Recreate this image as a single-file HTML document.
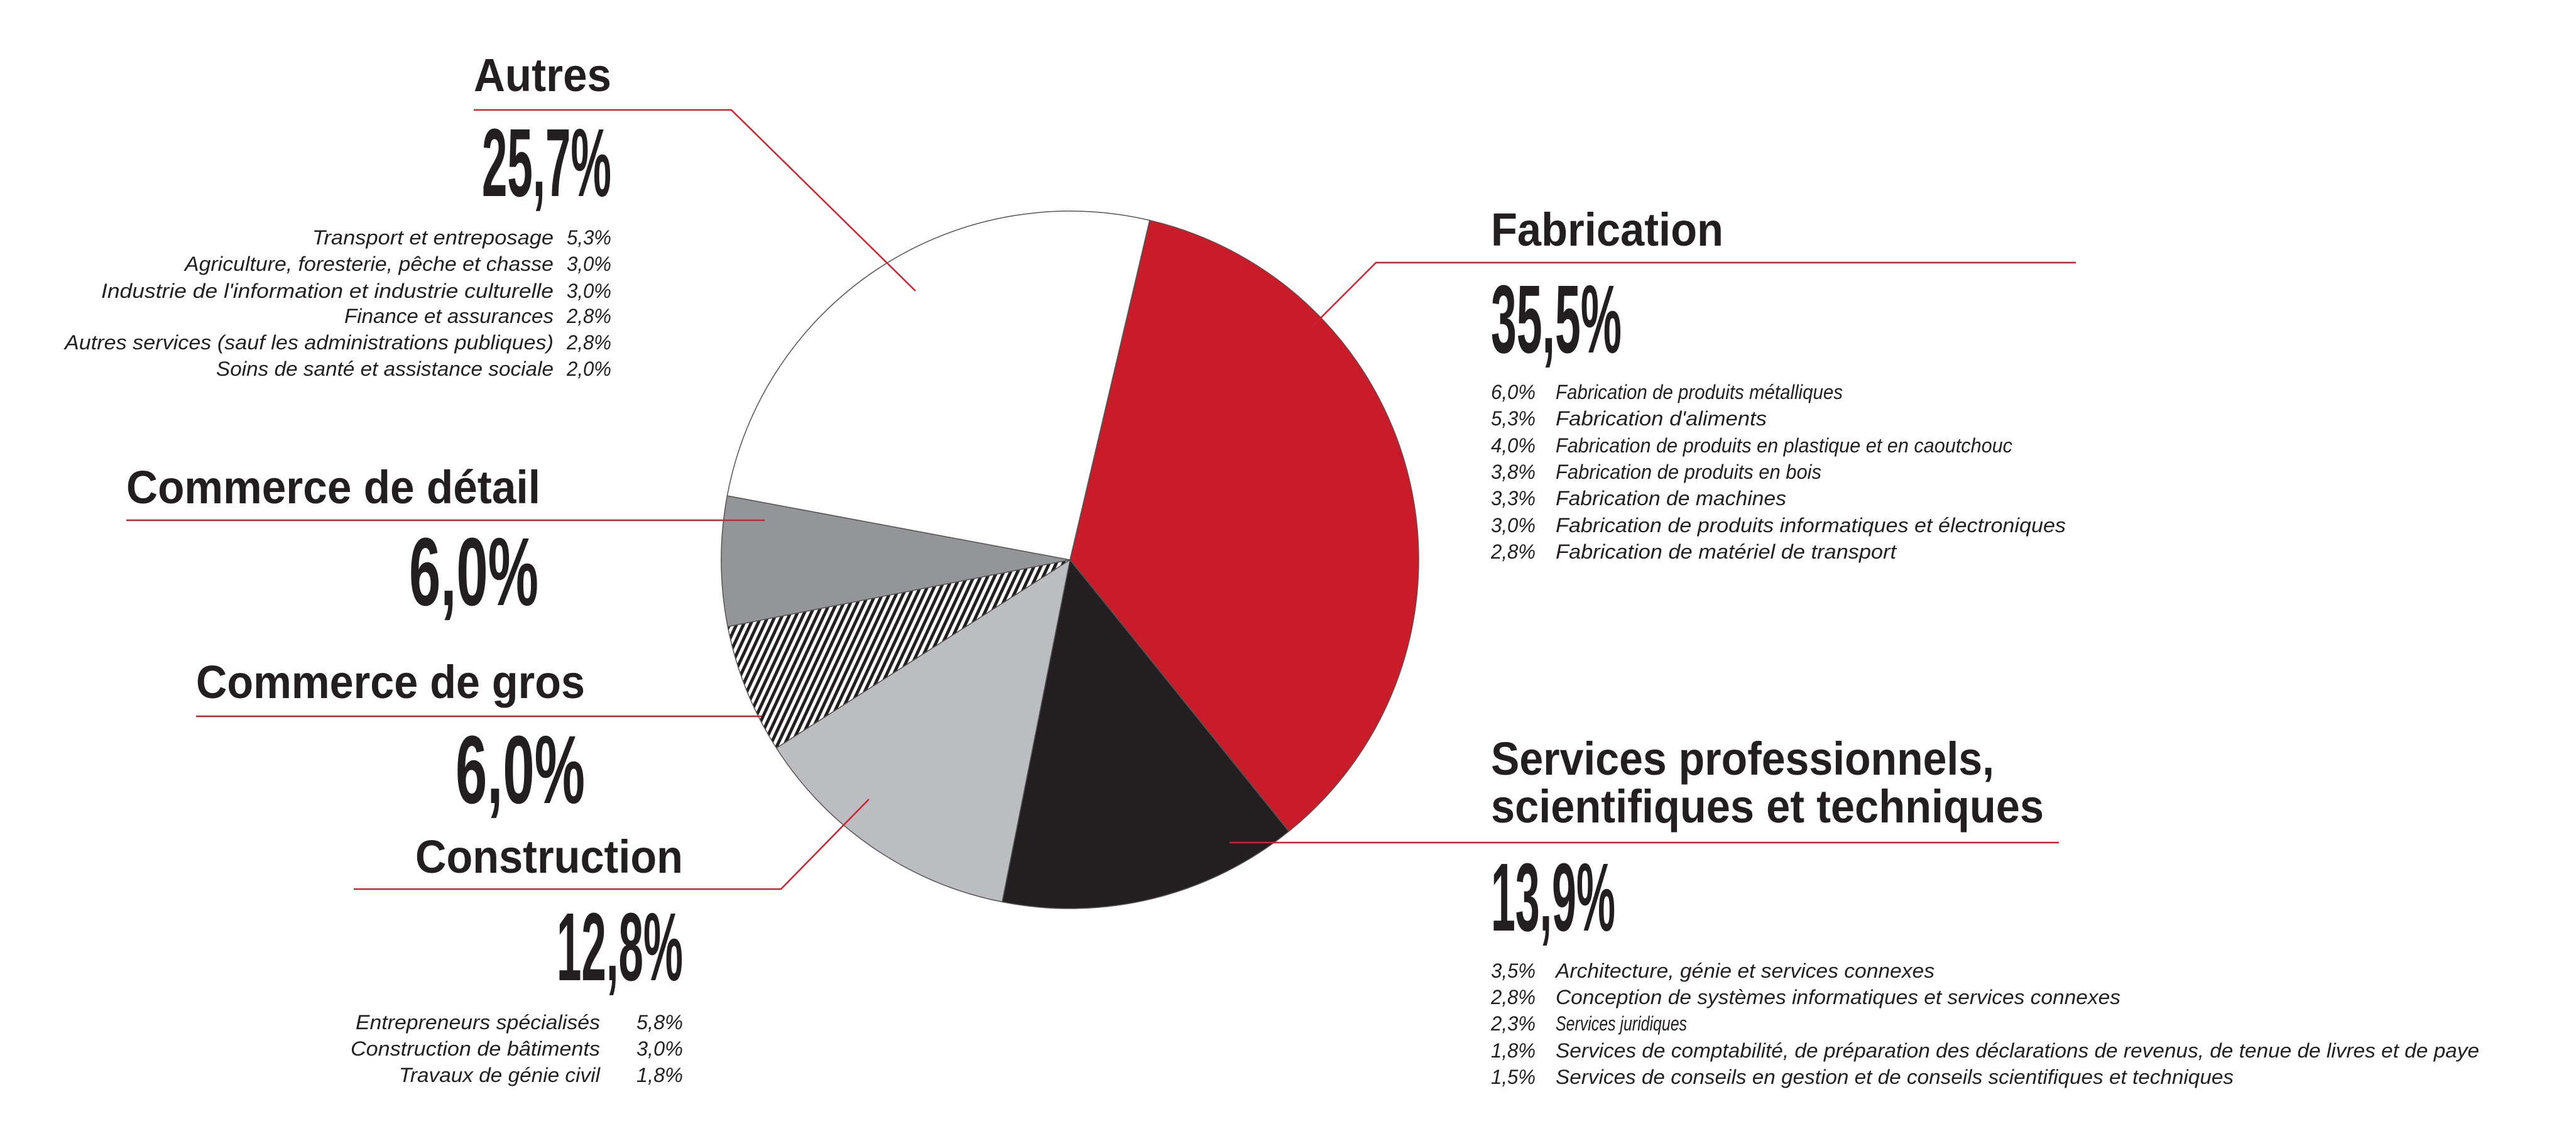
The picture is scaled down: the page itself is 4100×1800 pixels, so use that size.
<!DOCTYPE html>
<html><head><meta charset="utf-8"><style>
html,body{margin:0;padding:0;background:#fff;}
svg{display:block;}
.t{font-family:"Liberation Sans",sans-serif;font-weight:bold;fill:#231f20;}
.s{font-family:"Liberation Sans",sans-serif;font-style:italic;font-size:32px;fill:#231f20;}
.l{stroke:#d0202e;stroke-width:2.5;fill:none;}
</style></head><body>
<svg id="chart" width="4100" height="1800" viewBox="0 0 4100 1800">
<defs>
<pattern id="hatch" width="10" height="10" patternUnits="userSpaceOnUse" patternTransform="rotate(25)">
<rect width="10" height="10" fill="#fff"/><rect width="5" height="10" fill="#231f20"/>
</pattern>
</defs>
<g id="slices"></g>

<!-- leader lines -->
<polyline class="l" points="754,175 1164,175 1457,463"/>
<polyline class="l" points="3304,418 2190,418 2090,518"/>
<polyline class="l" points="201,828 1217,828"/>
<polyline class="l" points="312,1140 1212,1140"/>
<polyline class="l" points="563,1415 1243,1415 1383,1272"/>
<polyline class="l" points="3277,1341 1957,1341"/>

<!-- Autres -->
<text class="t" x="754" y="145" font-size="74" textLength="219" lengthAdjust="spacingAndGlyphs">Autres</text>
<text class="t" x="767" y="312" font-size="154" textLength="206" lengthAdjust="spacingAndGlyphs">25,7%</text>
<g>
<text class="s" x="497" y="389" textLength="384" lengthAdjust="spacingAndGlyphs">Transport et entreposage</text><text class="s" x="902" y="389" textLength="71" lengthAdjust="spacingAndGlyphs">5,3%</text>
<text class="s" x="294" y="431" textLength="587" lengthAdjust="spacingAndGlyphs">Agriculture, foresterie, pêche et chasse</text><text class="s" x="902" y="431" textLength="71" lengthAdjust="spacingAndGlyphs">3,0%</text>
<text class="s" x="161" y="474" textLength="720" lengthAdjust="spacingAndGlyphs">Industrie de l'information et industrie culturelle</text><text class="s" x="902" y="474" textLength="71" lengthAdjust="spacingAndGlyphs">3,0%</text>
<text class="s" x="548" y="514" textLength="333" lengthAdjust="spacingAndGlyphs">Finance et assurances</text><text class="s" x="902" y="514" textLength="71" lengthAdjust="spacingAndGlyphs">2,8%</text>
<text class="s" x="103" y="556" textLength="778" lengthAdjust="spacingAndGlyphs">Autres services (sauf les administrations publiques)</text><text class="s" x="902" y="556" textLength="71" lengthAdjust="spacingAndGlyphs">2,8%</text>
<text class="s" x="344" y="598" textLength="537" lengthAdjust="spacingAndGlyphs">Soins de santé et assistance sociale</text><text class="s" x="902" y="598" textLength="71" lengthAdjust="spacingAndGlyphs">2,0%</text>
</g>

<!-- Fabrication -->
<text class="t" x="2373" y="391" font-size="74" textLength="370" lengthAdjust="spacingAndGlyphs">Fabrication</text>
<text class="t" x="2373" y="561" font-size="154" textLength="208" lengthAdjust="spacingAndGlyphs">35,5%</text>
<g>
<text class="s" x="2373" y="635" textLength="71" lengthAdjust="spacingAndGlyphs">6,0%</text><text class="s" x="2476" y="635" textLength="457" lengthAdjust="spacingAndGlyphs">Fabrication de produits métalliques</text>
<text class="s" x="2373" y="677" textLength="71" lengthAdjust="spacingAndGlyphs">5,3%</text><text class="s" x="2476" y="677" textLength="336" lengthAdjust="spacingAndGlyphs">Fabrication d'aliments</text>
<text class="s" x="2373" y="720" textLength="71" lengthAdjust="spacingAndGlyphs">4,0%</text><text class="s" x="2476" y="720" textLength="727" lengthAdjust="spacingAndGlyphs">Fabrication de produits en plastique et en caoutchouc</text>
<text class="s" x="2373" y="762" textLength="71" lengthAdjust="spacingAndGlyphs">3,8%</text><text class="s" x="2476" y="762" textLength="423" lengthAdjust="spacingAndGlyphs">Fabrication de produits en bois</text>
<text class="s" x="2373" y="804" textLength="71" lengthAdjust="spacingAndGlyphs">3,3%</text><text class="s" x="2476" y="804" textLength="367" lengthAdjust="spacingAndGlyphs">Fabrication de machines</text>
<text class="s" x="2373" y="847" textLength="71" lengthAdjust="spacingAndGlyphs">3,0%</text><text class="s" x="2476" y="847" textLength="812" lengthAdjust="spacingAndGlyphs">Fabrication de produits informatiques et électroniques</text>
<text class="s" x="2373" y="889" textLength="71" lengthAdjust="spacingAndGlyphs">2,8%</text><text class="s" x="2476" y="889" textLength="542" lengthAdjust="spacingAndGlyphs">Fabrication de matériel de transport</text>
</g>

<!-- Commerce de détail -->
<text class="t" x="201" y="801" font-size="74" textLength="659" lengthAdjust="spacingAndGlyphs">Commerce de détail</text>
<text class="t" x="651" y="963" font-size="154" textLength="206" lengthAdjust="spacingAndGlyphs">6,0%</text>

<!-- Commerce de gros -->
<text class="t" x="312" y="1111" font-size="74" textLength="619" lengthAdjust="spacingAndGlyphs">Commerce de gros</text>
<text class="t" x="725" y="1278" font-size="154" textLength="206" lengthAdjust="spacingAndGlyphs">6,0%</text>

<!-- Construction -->
<text class="t" x="661" y="1389" font-size="74" textLength="426" lengthAdjust="spacingAndGlyphs">Construction</text>
<text class="t" x="886" y="1560" font-size="154" textLength="201" lengthAdjust="spacingAndGlyphs">12,8%</text>
<g>
<text class="s" x="566" y="1638" textLength="389" lengthAdjust="spacingAndGlyphs">Entrepreneurs spécialisés</text><text class="s" x="1013" y="1638" textLength="74" lengthAdjust="spacingAndGlyphs">5,8%</text>
<text class="s" x="558" y="1680" textLength="397" lengthAdjust="spacingAndGlyphs">Construction de bâtiments</text><text class="s" x="1013" y="1680" textLength="74" lengthAdjust="spacingAndGlyphs">3,0%</text>
<text class="s" x="635" y="1722" textLength="320" lengthAdjust="spacingAndGlyphs">Travaux de génie civil</text><text class="s" x="1013" y="1722" textLength="74" lengthAdjust="spacingAndGlyphs">1,8%</text>
</g>

<!-- Services -->
<text class="t" x="2373" y="1233" font-size="74" textLength="801" lengthAdjust="spacingAndGlyphs">Services professionnels,</text>
<text class="t" x="2373" y="1309" font-size="74" textLength="880" lengthAdjust="spacingAndGlyphs">scientifiques et techniques</text>
<text class="t" x="2373" y="1481" font-size="154" textLength="198" lengthAdjust="spacingAndGlyphs">13,9%</text>
<g>
<text class="s" x="2373" y="1556" textLength="71" lengthAdjust="spacingAndGlyphs">3,5%</text><text class="s" x="2476" y="1556" textLength="603" lengthAdjust="spacingAndGlyphs">Architecture, génie et services connexes</text>
<text class="s" x="2373" y="1598" textLength="71" lengthAdjust="spacingAndGlyphs">2,8%</text><text class="s" x="2476" y="1598" textLength="899" lengthAdjust="spacingAndGlyphs">Conception de systèmes informatiques et services connexes</text>
<text class="s" x="2373" y="1640" textLength="71" lengthAdjust="spacingAndGlyphs">2,3%</text><text class="s" x="2476" y="1640" textLength="209" lengthAdjust="spacingAndGlyphs">Services juridiques</text>
<text class="s" x="2373" y="1683" textLength="71" lengthAdjust="spacingAndGlyphs">1,8%</text><text class="s" x="2476" y="1683" textLength="1470" lengthAdjust="spacingAndGlyphs">Services de comptabilité, de préparation des déclarations de revenus, de tenue de livres et de paye</text>
<text class="s" x="2373" y="1725" textLength="71" lengthAdjust="spacingAndGlyphs">1,5%</text><text class="s" x="2476" y="1725" textLength="1079" lengthAdjust="spacingAndGlyphs">Services de conseils en gestion et de conseils scientifiques et techniques</text>
</g>
</svg>
<script>
const categories = ["Fabrication", "Services professionnels", "Construction", "Commerce de gros", "Commerce de détail", "Autres"];
const shares = [35.5, 13.9, 12.8, 6.0, 6.0, 25.7];
const fills = ["#c91b28", "#231f20", "#bcbdc0", "url(#hatch)", "#939598", "#ffffff"];
const startDeg = 13.2;
const cx = 1703, cy = 891, r = 555;
const total = shares.reduce((a, b) => a + b, 0);
function angleOf(v) { return startDeg + v / total * 360; }
function pt(deg) { const a = deg * Math.PI / 180; return [cx + r * Math.sin(a), cy - r * Math.cos(a)]; }
const g = document.getElementById('slices');
let acc = 0;
shares.forEach((v, i) => {
  const a0 = angleOf(acc), a1 = angleOf(acc + v);
  acc += v;
  const p0 = pt(a0), p1 = pt(a1);
  const large = (a1 - a0) > 180 ? 1 : 0;
  const p = document.createElementNS('http://www.w3.org/2000/svg', 'path');
  p.setAttribute('d', `M${cx},${cy} L${p0[0]},${p0[1]} A${r},${r} 0 ${large} 1 ${p1[0]},${p1[1]} Z`);
  p.setAttribute('fill', fills[i]);
  p.setAttribute('stroke', '#555');
  p.setAttribute('stroke-width', '1.5');
  
  
  g.appendChild(p);
});
</script>
</body></html>
